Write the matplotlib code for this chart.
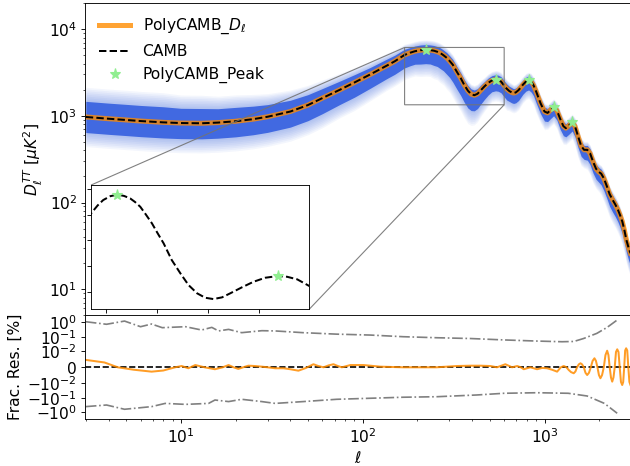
import numpy as np
import matplotlib
matplotlib.use("Agg")
import matplotlib.pyplot as plt

# ---------------- data ----------------
ell = [3, 4, 5, 6, 8, 10, 13, 16, 20, 25,
       30, 40, 50, 60, 75, 90, 110, 136, 150, 170,
       183, 194, 208, 222, 235, 247, 257, 267, 278, 290,
       301, 313, 329, 346, 362, 379, 395, 411, 428, 444,
       467, 490, 513, 538, 556, 576, 600, 620, 640, 660,
       676, 695, 720, 760, 790, 818, 845, 870, 900, 950,
       1000, 1040, 1080, 1122, 1170, 1220, 1270, 1310, 1360, 1419,
       1470, 1530, 1590, 1650, 1720, 1780, 1850, 1920, 1990, 2050,
       2120, 2200, 2280, 2370, 2450, 2530, 2600, 2680, 2750, 2820,
       2900, 2970]
Dl = [970, 925, 895, 870, 840, 825, 820, 835, 865, 915,
      975, 1120, 1330, 1600, 2000, 2420, 3000, 3800, 4250, 5040,
      5350, 5560, 5710, 5770, 5720, 5625, 5480, 5300, 5000, 4657,
      4280, 3883, 3237, 2722, 2269, 1948, 1777, 1727, 1793, 1948,
      2180, 2397, 2552, 2618, 2590, 2490, 2230, 2050, 1930, 1860,
      1830, 1860, 1980, 2280, 2480, 2560, 2470, 2250, 1900, 1400,
      1120, 1080, 1170, 1260, 1150, 920, 760, 720, 770, 840,
      760, 580, 450, 405, 405, 370, 295, 245, 225, 215,
      190, 155, 125, 107, 95, 83, 72, 60, 48, 37,
      30, 26]
# spread of the sample band above / below the curve (dex)
band_up = ([0.18, 0.18, 0.18, 0.18, 0.18, 0.17, 0.17, 0.16, 0.16, 0.15,
            0.14, 0.13, 0.12, 0.11, 0.10, 0.09, 0.08, 0.075, 0.07, 0.065]
           + [0.06] * 20 + [0.055] * 10 + [0.05] * 42)
band_dn = ([0.18] * 10 +
           [0.18, 0.18, 0.18, 0.18, 0.17, 0.17, 0.16, 0.15, 0.15, 0.15,
            0.15, 0.15, 0.16, 0.16, 0.16, 0.17, 0.17, 0.18, 0.18, 0.19,
            0.19, 0.20, 0.20, 0.20, 0.20, 0.20, 0.19, 0.18, 0.17, 0.16,
            0.15, 0.14, 0.13, 0.13, 0.13, 0.13, 0.13, 0.13, 0.12, 0.12,
            0.12, 0.12, 0.12, 0.11, 0.11, 0.11, 0.12, 0.12, 0.13, 0.12,
            0.11, 0.10, 0.10, 0.10, 0.11, 0.12, 0.11, 0.10, 0.10, 0.10,
            0.12, 0.13, 0.12, 0.11, 0.12, 0.13, 0.13, 0.12, 0.12, 0.13]
           + [0.14] * 12)

peak_ell = [222, 538, 818, 1122, 1419]
peak_D = [5770, 2618, 2560, 1260, 840]

res_ell = [3, 3.8, 4.5, 5.5, 6.9, 8, 9.3, 10.1, 11, 12,
           13.5, 15.4, 17, 18.3, 19.5, 20.7, 22, 23.5, 25.5, 27.9,
           30, 33, 36.7, 40, 44.3, 48.5, 53.6, 57, 60.9, 65,
           69.1, 73, 76.8, 85.6, 101, 125, 167, 255, 330, 391,
           444, 503, 548, 609, 640, 663, 707, 740, 769, 836,
           910, 970, 1033, 1100, 1173, 1230, 1276, 1320, 1360, 1400,
           1448, 1479, 1510, 1543, 1577, 1610, 1645, 1680, 1716, 1756,
           1797, 1839, 1882, 1918, 1955, 1992, 2030, 2073, 2118, 2164,
           2211, 2247, 2283, 2320, 2357, 2395, 2433, 2472, 2512, 2552,
           2592, 2633, 2675, 2709, 2743, 2777, 2812, 2851, 2890, 2930,
           2970]
res_val = [0.0046, 0.003, 0.0, -0.0015, -0.0027, -0.002, 0.0, 0.0008, -0.0006, 0.0014,
           0.0, -0.0012, 0.0, 0.0014, 0.0, -0.001, 0.0, 0.001, 0.0008, 0.0004,
           0.0, -0.0006, -0.0006, -0.0012, -0.0021, -0.0005, 0.0019, 0.0008, 0.0, 0.0012,
           0.0019, 0.0008, 0.0, 0.0014, 0.0014, 0.0004, 0.0, 0.0, 0.0008, 0.001,
           0.001, 0.0008, 0.0, 0.0019, 0.0008, 0.0, 0.0008, 0.0, -0.0012, 0.0,
           -0.0012, -0.0004, -0.0006, -0.0015, -0.0027, 0.0, 0.0008, 0.0, -0.0017, -0.003,
           -0.0037, -0.0026, 0.0, 0.0018, 0.0025, 0.0018, 0.0, -0.0034, -0.0048, -0.0034,
           0.0, 0.004, 0.0056, 0.004, 0.0, -0.0048, -0.0068, -0.0048, 0.0, 0.0076,
           0.0108, 0.0076, 0.0, -0.0063, -0.0089, -0.0063, 0.0, 0.0095, 0.0135, 0.0095,
           0.0, -0.0091, -0.0129, -0.0091, 0.0, 0.0112, 0.0159, 0.0112, 0.0, -0.0091,
           -0.0129]

err_up_ell = [3, 3.9, 4.9, 6.0, 6.9, 7.9, 10.6, 13.0, 14.8, 16.1,
              18.3, 21.6, 27.9, 33, 47, 72, 110, 167, 255, 391,
              597, 910, 1250, 1450, 1640, 1940, 2210, 2510]
err_up = [1.08, 0.72, 1.2, 0.49, 0.75, 0.42, 0.49, 0.29, 0.44, 0.25,
          0.32, 0.19, 0.26, 0.25, 0.19, 0.15, 0.13, 0.1, 0.085, 0.075,
          0.06, 0.05, 0.045, 0.047, 0.075, 0.17, 0.44, 1.42]
err_lo_ell = [3, 3.9, 4.9, 6.9, 8.2, 10.6, 14.2, 15.4, 18.3, 21.6,
              27.9, 33, 47, 72, 110, 167, 255, 424, 600, 910,
              1350, 1716, 2135, 2510]
err_lo = [-0.4, -0.31, -0.61, -0.4, -0.24, -0.28, -0.24, -0.14, -0.18, -0.125,
          -0.18, -0.24, -0.18, -0.125, -0.106, -0.09, -0.083, -0.063, -0.048, -0.044,
          -0.048, -0.074, -0.24, -1.15]

inset_xlim = (170, 600)
inset_ylim = (1340, 6140)

# ---------------- figure ----------------
DPI = 80
plt.rcParams['font.size'] = 14
fig = plt.figure(figsize=(630 / DPI, 466 / DPI), dpi=DPI)
ax = fig.add_axes([85 / 630, 150.7 / 466, 546 / 630, 312.3 / 466])
ax2 = fig.add_axes([85 / 630, 46.7 / 466, 546 / 630, 104 / 466], sharex=ax)

L = np.array(ell, float)
D = np.array(Dl, float)
up = np.array(band_up)
dn = np.array(band_dn)

nf = 8
for k in range(nf, 0, -1):
    f = k / nf
    eu = up * (1 + 0.9 * f)
    ed = dn * (1 + 0.9 * f)
    ax.fill_between(L, D * 10 ** (-ed), D * 10 ** eu, color='royalblue',
                    alpha=0.06, lw=0)
ax.fill_between(L, D * 10 ** (-dn), D * 10 ** up, color='royalblue', alpha=1.0, lw=0)

ax.plot(L, D, color='darkorange', alpha=0.8, lw=4.5, label=r'PolyCAMB_$D_\ell$')
ax.plot(L, D, 'k--', lw=1.8, label='CAMB')
ax.plot(peak_ell, peak_D, ls='none', marker='*', color='lightgreen', ms=10,
        label='PolyCAMB_Peak')

ax.set_xscale('log')
ax.set_yscale('log')
ax.set_xlim(2.97, 2990)
ax.set_ylim(5, 2e4)
ax.set_ylabel(r'$D_\ell^{TT}$ [$\mu K^2$]')
ax.tick_params(axis='x', which='both', bottom=False, labelbottom=False)
ax.legend(loc='upper left', frameon=False, fontsize=14)

# inset
axins = ax.inset_axes([0.011, 0.02, 0.4, 0.397])
axins.plot(L, D, 'k--', lw=1.8)
axins.plot(peak_ell, peak_D, ls='none', marker='*', color='lightgreen', ms=10)
axins.set_xlim(*inset_xlim)
axins.set_ylim(*inset_ylim)
axins.set_xticks([200, 300, 400, 500])
axins.set_yticks([2000, 3000, 4000, 5000, 6000])
axins.tick_params(labelleft=False, labelbottom=False)
ax.indicate_inset_zoom(axins, edgecolor='0.45', alpha=0.9)

# residual panel
ax2.plot(err_up_ell, err_up, color='gray', ls='-.', lw=1.5)
ax2.plot(err_lo_ell, err_lo, color='gray', ls='-.', lw=1.5)
ax2.axhline(0, color='k', ls='--', lw=1.5)
ax2.plot(res_ell, res_val, color='darkorange', alpha=0.85, lw=1.8)
ax2.set_yscale('symlog', linthresh=1e-2)
ax2.set_ylim(-3, 3)
ax2.set_xlim(2.97, 2990)
ax2.set_xlabel(r'$\ell$')
ax2.set_ylabel('Frac. Res. [%]')

fig.savefig('out.png', dpi=DPI)
